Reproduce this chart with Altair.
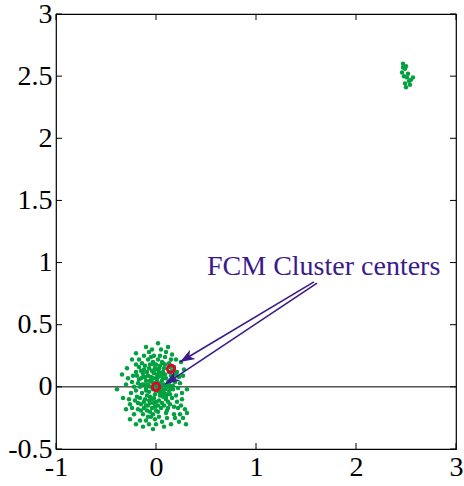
import math
import altair as alt
import pandas as pd

# ---------------- data ----------------
main_x = [-0.02, 0.03, -0.06, 0.08, -0.1, 0.05, -0.04, 0.11, -0.13, 0.0,
          0.14, -0.08, 0.06, -0.16, 0.17, -0.03, 0.02, -0.19, 0.2, -0.11,
          0.09, -0.2, 0.12, -0.15, 0.21, -0.24, 0.24, -0.05, 0.04, -0.17,
          0.15, -0.26, 0.18, -0.1, 0.0, -0.07, 0.26, -0.3, 0.1, -0.22,
          0.01, -0.01, 0.05, -0.05, 0.02, -0.03, 0.07, -0.08, 0.1, -0.09,
          0.04, -0.02, 0.09, -0.12, 0.13, -0.06, 0.03, -0.14, 0.16, -0.07,
          0.07, -0.12, 0.12, -0.17, 0.19, -0.01, 0.0, -0.18, 0.18, -0.15,
          0.06, -0.08, 0.1, -0.13, 0.22, -0.23, 0.23, -0.03, 0.02, -0.2,
          0.04, -0.04, 0.0, 0.06, -0.07, 0.08, -0.02, 0.01, -0.1, 0.11,
          0.03, -0.05, 0.06, -0.09, 0.02, -0.01, 0.09, -0.11, 0.13, -0.04,
          0.0, -0.13, 0.15, -0.16, 0.14, -0.06, 0.05, -0.18, 0.17, -0.09,
          0.08, -0.2, 0.2, -0.02, -0.01, 0.13, -0.14, 0.11, -0.18, 0.25,
          -0.28, 0.27, -0.07, 0.06, -0.12, 0.19, -0.25, 0.29, -0.33, 0.16,
          -0.39, 0.02, -0.13, 0.31, -0.2, 0.28, -0.29, 0.2, -0.24, 0.23,
          -0.16, 0.12, -0.1, 0.08, -0.03, 0.31, -0.34, 0.3, -0.2, 0.15,
          0.01, -0.03, 0.05, -0.06, 0.07, -0.08, 0.03, -0.1, 0.12, -0.04,
          0.1, -0.12, 0.04, -0.15, 0.16, 0.0, -0.02, 0.08, -0.11, 0.14,
          -0.05, 0.03, -0.17, 0.18, -0.21, 0.21, -0.08, 0.09, -0.22, 0.22,
          -0.01, 0.0, -0.14, 0.15, -0.06, 0.07, -0.19, 0.18, -0.12, 0.11,
          -0.09, 0.06, -0.07, 0.1, -0.02, 0.02, -0.15, 0.13, -0.1, 0.14,
          -0.26, 0.25, -0.3, 0.27, -0.24, 0.05, -0.04, 0.24, -0.27, 0.26]
main_y = [0.01, -0.04, 0.05, 0.02, -0.03, 0.09, -0.1, -0.06, 0.08, 0.14,
          0.05, -0.15, -0.13, 0.0, -0.02, 0.2, -0.2, -0.08, 0.1, 0.17,
          0.18, 0.12, -0.17, -0.19, -0.12, 0.04, 0.03, -0.24, 0.25, 0.22,
          0.22, -0.14, -0.22, -0.27, -0.3, 0.28, -0.05, 0.02, 0.28, -0.22,
          0.05, -0.06, 0.0, 0.0, 0.08, -0.02, -0.08, 0.09, 0.07, -0.07,
          -0.07, 0.11, -0.02, 0.02, 0.12, -0.13, 0.15, -0.05, -0.09, 0.15,
          0.12, -0.12, -0.12, 0.06, 0.04, -0.16, 0.18, -0.13, 0.16, 0.13,
          0.2, 0.22, -0.21, -0.22, -0.17, 0.09, 0.08, -0.22, 0.22, 0.18,
          0.03, 0.04, -0.03, 0.05, -0.04, -0.05, -0.09, 0.1, 0.05, 0.0,
          -0.11, 0.08, -0.02, 0.0, -0.01, 0.03, 0.1, -0.1, -0.03, 0.13,
          -0.12, 0.11, 0.09, -0.09, -0.14, 0.18, -0.17, 0.03, 0.01, -0.19,
          0.15, -0.03, -0.07, 0.25, -0.26, 0.19, 0.19, -0.25, -0.18, -0.15,
          0.07, 0.09, -0.3, -0.28, 0.25, -0.25, -0.05, -0.18, -0.09, 0.26,
          -0.02, 0.35, -0.32, -0.21, 0.27, 0.14, 0.15, 0.22, -0.17, -0.28,
          -0.27, 0.32, 0.32, -0.32, -0.34, -0.02, 0.1, -0.3, -0.3, -0.3,
          0.0, 0.07, -0.05, -0.08, 0.07, 0.02, 0.12, -0.01, 0.04, -0.17,
          -0.1, 0.14, 0.17, -0.14, 0.13, 0.07, -0.13, -0.15, 0.08, -0.06,
          0.24, -0.24, 0.16, -0.16, -0.11, 0.12, -0.24, 0.24, 0.0, -0.01,
          0.15, -0.19, 0.02, -0.01, -0.2, 0.19, 0.09, 0.07, -0.17, -0.19,
          0.12, 0.1, -0.11, -0.08, 0.18, -0.15, 0.07, 0.02, -0.15, 0.16,
          -0.26, 0.2, -0.18, -0.25, 0.22, 0.3, 0.3, -0.22, -0.1, -0.1]

small_x = [2.47, 2.49, 2.46, 2.48, 2.51, 2.53, 2.49, 2.55, 2.57, 2.5, 2.52, 2.47, 2.5, 2.54]
small_y = [2.6, 2.56, 2.53, 2.5, 2.49, 2.46, 2.44, 2.47, 2.49, 2.41, 2.52, 2.57, 2.58, 2.43]

centers_x = [0.0, 0.15]
centers_y = [0.0, 0.145]

label_text = "FCM Cluster centers"
label_x = [0.51]
label_y = [0.9]

arrow_start_x = [1.58, 1.61]
arrow_start_y = [0.845, 0.835]
arrow_tip_x = [0.24, 0.09]
arrow_tip_y = [0.20, 0.02]

x_ticks = [-1, 0, 1, 2, 3]
y_ticks = [-0.5, 0, 0.5, 1, 1.5, 2, 2.5, 3]

# ---------------- layout ----------------
W, H = 400, 435
XD = [-1, 3]
YD = [-0.5, 3]
FONT = "Liberation Serif"
GREEN = "#00a13e"
INK = "#3b1a8c"
TICK = 6

xs = alt.Scale(domain=XD, nice=False, zero=False)
ys = alt.Scale(domain=YD, nice=False, zero=False)

pts = pd.DataFrame({"x": main_x + small_x, "y": main_y + small_y})
cen = pd.DataFrame({"x": centers_x, "y": centers_y})

px_per_x = W / (XD[1] - XD[0])
px_per_y = H / (YD[1] - YD[0])
angles = []
for sx, sy, tx, ty in zip(arrow_start_x, arrow_start_y, arrow_tip_x, arrow_tip_y):
    dx = (tx - sx) * px_per_x
    dy = -(ty - sy) * px_per_y
    angles.append(math.degrees(math.atan2(dx, -dy)) % 360)
arr = pd.DataFrame({"sx": arrow_start_x, "sy": arrow_start_y,
                    "tx": arrow_tip_x, "ty": arrow_tip_y, "ang": angles})

xt = pd.DataFrame({"v": x_ticks})
yt = pd.DataFrame({"v": y_ticks})
zero_df = pd.DataFrame({"y": [0], "x0": [XD[0]], "x1": [XD[1]]})
lab = pd.DataFrame({"x": label_x, "y": label_y, "t": [label_text]})

x_axis = alt.Axis(values=x_ticks, ticks=False, domain=False, grid=False, title=None,
                  labelFont=FONT, labelFontSize=28, labelColor="black", labelPadding=4,
                  labelFlush=False, labelExpr="datum.value")
y_axis = alt.Axis(values=y_ticks, ticks=False, domain=False, grid=False, title=None,
                  labelFont=FONT, labelFontSize=28, labelColor="black", labelPadding=4,
                  labelFlush=False, labelExpr="datum.value")

XN = lambda f: alt.X(f, scale=xs, axis=x_axis)
YN = lambda f: alt.Y(f, scale=ys, axis=y_axis)

zero_line = alt.Chart(zero_df).mark_rule(color="black", strokeWidth=1).encode(
    y=YN("y:Q"), x=XN("x0:Q"), x2="x1:Q")

bt = alt.Chart(xt).mark_rule(color="black").encode(
    x=XN("v:Q"), y=alt.value(H), y2=alt.value(H - TICK))
tt = alt.Chart(xt).mark_rule(color="black").encode(
    x=XN("v:Q"), y=alt.value(0), y2=alt.value(TICK))
lt = alt.Chart(yt).mark_rule(color="black").encode(
    y=YN("v:Q"), x=alt.value(0), x2=alt.value(TICK))
rt = alt.Chart(yt).mark_rule(color="black").encode(
    y=YN("v:Q"), x=alt.value(W), x2=alt.value(W - TICK))

points = alt.Chart(pts).mark_circle(color=GREEN, opacity=1, size=20).encode(
    x=XN("x:Q"), y=YN("y:Q"))

centers = alt.Chart(cen).mark_point(shape="circle", filled=False, color="#e4002b",
                                    strokeWidth=2.8, size=55, opacity=1).encode(
    x=XN("x:Q"), y=YN("y:Q"))

arrow_lines = alt.Chart(arr).mark_rule(color=INK, strokeWidth=1.6).encode(
    x=XN("sx:Q"), y=YN("sy:Q"), x2="tx:Q", y2="ty:Q")

heads = alt.Chart(arr).mark_point(shape="M0,0 L-0.36,1 L0,0.72 L0.36,1 Z", filled=True,
                                  color=INK, size=900, opacity=1).encode(
    x=XN("tx:Q"), y=YN("ty:Q"),
    angle=alt.Angle("ang:Q", scale=None))

text = alt.Chart(lab).mark_text(font=FONT, fontSize=28, color=INK, align="left",
                                baseline="alphabetic").encode(
    x=XN("x:Q"), y=YN("y:Q"), text="t:N")

chart = alt.layer(
    zero_line, bt, tt, lt, rt, points, centers, arrow_lines, heads, text
).properties(
    width=W, height=H,
    autosize=alt.AutoSizeParams(type="none"),
    padding={"left": 56, "top": 14, "right": 8, "bottom": 37},
).configure_view(stroke="black", strokeWidth=1.2).configure_axis(labelFont=FONT)

chart.save("out.html", embed_options={"renderer": "svg", "actions": False})
